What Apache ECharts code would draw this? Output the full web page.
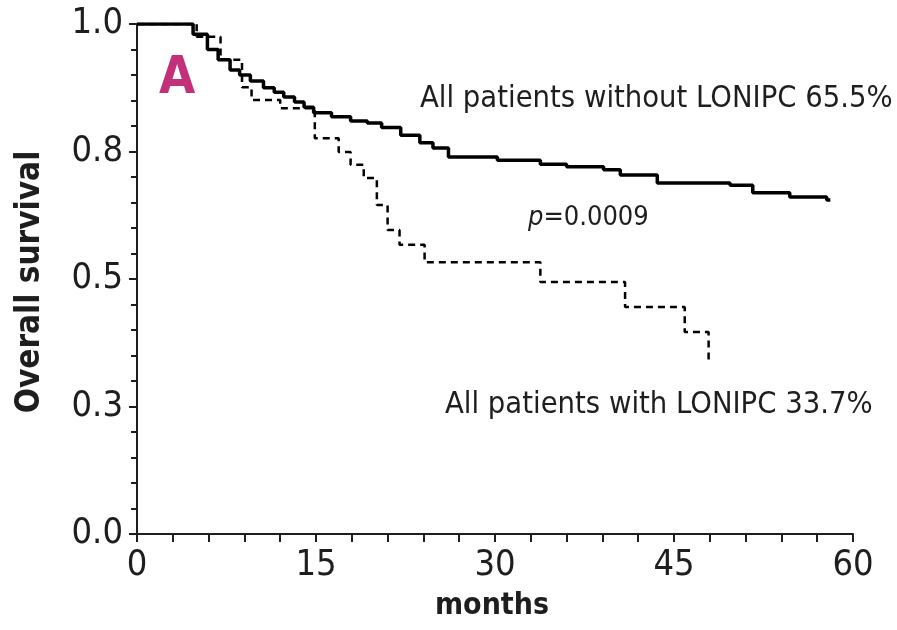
<!DOCTYPE html>
<html>
<head>
<meta charset="utf-8">
<script src="https://cdn.jsdelivr.net/npm/echarts@6/dist/echarts.min.js"></script>
<style>
  html, body { margin: 0; padding: 0; background: #fff; }
  #chart { width: 897px; height: 630px; }
</style>
</head>
<body>
<div id="chart"></div>
<script>
// Kaplan-Meier overall survival, patients without vs. with LONIPC
const withoutMonths = [0, 4.7, 5.9, 6.8, 7.8, 8.6, 9.5, 10.6, 11.5, 12.3, 13.2, 14.0, 14.8, 16.3, 17.9, 19.3, 20.5, 22.1, 23.7, 24.8, 26.1, 30.2, 33.8, 36.0, 39.1, 40.5, 43.6, 49.7, 51.6, 54.7, 57.8, 58.1];
const withoutSurvival = [1.0, 0.98, 0.95, 0.93, 0.91, 0.90, 0.888, 0.875, 0.866, 0.857, 0.847, 0.837, 0.826, 0.818, 0.81, 0.806, 0.797, 0.782, 0.767, 0.757, 0.739, 0.733, 0.725, 0.72, 0.714, 0.704, 0.688, 0.684, 0.669, 0.661, 0.655, 0.655];

const withMonths = [0, 5.0, 7.0, 8.8, 9.6, 12.0, 14.9, 16.9, 17.9, 19.0, 20.1, 21.0, 22.0, 24.1, 33.8, 40.9, 45.9, 47.9];
const withSurvival = [1.0, 0.975, 0.93, 0.876, 0.851, 0.835, 0.776, 0.749, 0.724, 0.698, 0.645, 0.596, 0.567, 0.533, 0.494, 0.445, 0.396, 0.337];

const xTickStep = 15;
const yTickStep = 0.25;

const labelWithout = 'All patients without LONIPC 65.5%';
const labelWith = 'All patients with LONIPC 33.7%';
const pValue = '0.0009';

const narrow = '"Liberation Sans Narrow", "DejaVu Sans Condensed", "Roboto Condensed", "Arial Narrow", sans-serif';
const ink = '#1e1e1e';

const zip = (xs, ys) => xs.map((x, i) => [x, ys[i]]);

const chart = echarts.init(document.getElementById('chart'), null, { renderer: 'canvas' });

chart.setOption({
  animation: false,
  backgroundColor: '#ffffff',
  grid: { left: 137, top: 24, width: 716, height: 510, containLabel: false },
  xAxis: {
    type: 'value',
    min: 0,
    max: 60,
    interval: xTickStep,
    axisLine: { onZero: false, lineStyle: { color: ink, width: 2 } },
    axisTick: { show: true, inside: false, length: 8, lineStyle: { color: ink, width: 2 } },
    minorTick: { show: true, splitNumber: 5, length: 8, lineStyle: { color: ink, width: 2 } },
    splitLine: { show: false },
    axisLabel: { color: ink, fontFamily: narrow, fontSize: 36, margin: 14 }
  },
  yAxis: {
    type: 'value',
    min: 0,
    max: 1,
    interval: yTickStep,
    axisLine: { show: true, onZero: false, lineStyle: { color: ink, width: 2 } },
    axisTick: { show: true, inside: false, length: 8, lineStyle: { color: ink, width: 2 } },
    minorTick: { show: true, splitNumber: 5, length: 6, lineStyle: { color: ink, width: 2 } },
    splitLine: { show: false },
    axisLabel: {
      color: ink, fontFamily: narrow, fontSize: 36, margin: 14,
      formatter: v => v.toFixed(1)
    }
  },
  series: [
    {
      name: 'without LONIPC',
      type: 'line',
      step: 'end',
      showSymbol: false,
      data: zip(withoutMonths, withoutSurvival),
      lineStyle: { color: '#000', width: 3.5 },
      z: 3
    },
    {
      name: 'with LONIPC',
      type: 'line',
      step: 'end',
      showSymbol: false,
      data: zip(withMonths, withSurvival),
      lineStyle: { color: '#000', width: 2.5, type: [7, 5] },
      z: 2
    }
  ],
  graphic: [
    {
      type: 'text', left: 159, top: 53,
      style: { text: 'A', fill: '#c2307a', font: 'bold 52px ' + narrow }
    },
    {
      type: 'text', left: 420, top: 84,
      style: { text: labelWithout, fill: ink, font: '30.6px ' + narrow }
    },
    {
      type: 'text', left: 528, top: 204,
      style: {
        text: '{i|p}=' + pValue,
        fill: ink,
        font: '27px ' + narrow,
        rich: { i: { fontStyle: 'italic', fontSize: 27, fontFamily: narrow, fill: ink } }
      }
    },
    {
      type: 'text', left: 445, top: 390,
      style: { text: labelWith, fill: ink, font: '30.6px ' + narrow }
    },
    {
      type: 'text', x: 30, y: 282, rotation: Math.PI / 2,
      style: { text: 'Overall survival', fill: ink, font: 'bold 33px ' + narrow, align: 'center', verticalAlign: 'middle' }
    },
    {
      type: 'text', x: 492, y: 606,
      style: { text: 'months', fill: ink, font: 'bold 30px ' + narrow, align: 'center', verticalAlign: 'middle' }
    }
  ]
});
</script>
</body>
</html>
